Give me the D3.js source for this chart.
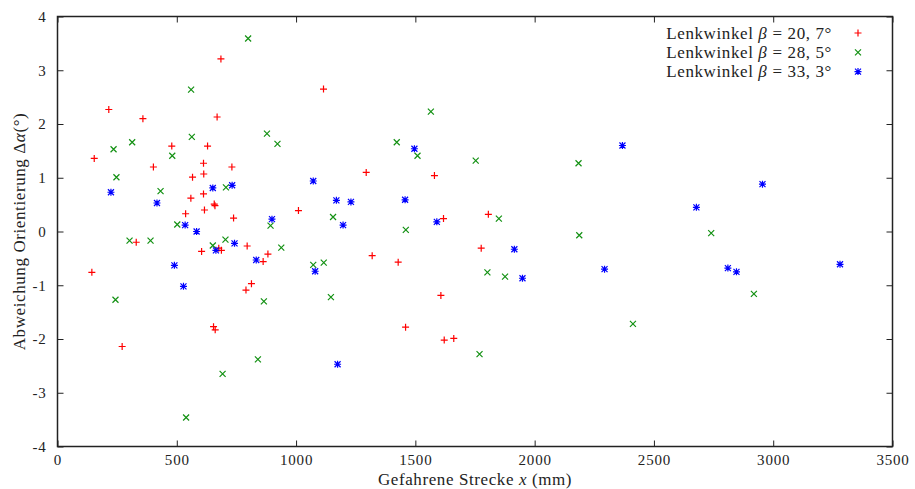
<!DOCTYPE html>
<html>
<head>
<meta charset="utf-8">
<script src="https://cdn.jsdelivr.net/npm/d3@7"></script>
<style>
  body { margin: 0; background: #fff; }
  svg { display: block; font-family: "Liberation Serif", "DejaVu Serif", serif; }
  .tick text { font-size: 15px; fill: #222; font-family: "Liberation Serif", serif; }
</style>
</head>
<body>
<svg id="chart" width="915" height="489"></svg>
<script>
// Lenkwinkel 20,7 deg  -> [x (mm), delta alpha (deg)]
var red = [
  [144, -0.76], [154, 1.36], [215, 2.27], [271, -2.14], [330, -0.2], [358, 2.1],
  [402, 1.2], [479, 1.59], [537, 0.33], [566, 1.01], [559, 0.62], [612, 1.27],
  [613, 1.07], [612, 0.7], [616, 0.4], [629, 1.59], [657, 0.51], [660, 0.48],
  [669, 2.13], [685, 3.21], [731, 1.2], [738, 0.25], [604, -0.37], [676, -0.31],
  [687, -0.35], [795, -0.27], [790, -1.09], [813, -0.97], [862, -0.56], [882, -0.42],
  [654, -1.77], [661, -1.83], [1010, 0.39], [1115, 2.65], [1294, 1.1], [1319, -0.45],
  [1428, -0.57], [1459, -1.78], [1580, 1.04], [1618, 0.24], [1607, -1.19], [1621, -2.02],
  [1661, -1.99], [1776, -0.31], [1806, 0.32]
];
// Lenkwinkel 28,5 deg
var green = [
  [235, 1.53], [247, 1.01], [243, -1.27], [313, 1.66], [302, -0.17], [390, -0.17],
  [432, 0.75], [481, 1.41], [502, 0.13], [560, 2.64], [563, 1.76], [539, -3.46],
  [651, -0.26], [704, -0.15], [706, 0.82], [692, -2.65], [799, 3.59], [840, -2.38],
  [865, -1.3], [878, 1.82], [893, 0.11], [922, 1.63], [938, -0.3], [1155, 0.27],
  [1072, -0.62], [1116, -0.58], [1146, -1.22], [1460, 0.03], [1422, 1.66], [1565, 2.23],
  [1509, 1.41], [1753, 1.32], [1850, 0.24], [1802, -0.76], [1876, -0.84], [1769, -2.28],
  [2184, 1.27], [2187, -0.07], [2412, -1.72], [2740, -0.03], [2919, -1.16]
];
// Lenkwinkel 33,3 deg
var blue = [
  [224, 0.73], [417, 0.53], [490, -0.63], [528, -1.02], [535, 0.12], [583, 0.0],
  [651, 0.81], [732, 0.86], [664, -0.35], [742, -0.22], [833, -0.53], [899, 0.23],
  [1072, 0.94], [1169, 0.58], [1230, 0.55], [1197, 0.12], [1080, -0.74], [1174, -2.47],
  [1457, 0.59], [1496, 1.54], [1590, 0.18], [1915, -0.33], [1949, -0.87], [2293, -0.7],
  [2368, 1.6], [2678, 0.45], [2955, 0.88], [2810, -0.68], [2846, -0.75], [3280, -0.61]
];
var labels = ["20, 7°", "28, 5°", "33, 3°"];
var xTicks = [0, 500, 1000, 1500, 2000, 2500, 3000, 3500];
var yTicks = [-4, -3, -2, -1, 0, 1, 2, 3, 4];

(function () {
  var svg = d3.select("#chart");
  var mLeft = 57.5, mRight = 892.5, mTop = 16.5, mBottom = 446.5;

  var x = d3.scaleLinear().domain([0, 3500]).range([mLeft, mRight]);
  var y = d3.scaleLinear().domain([-4, 4]).range([mBottom, mTop]);
  // plain hyphen for negatives, like the original plot
  var fmt = function (d) { return String(d); };

  // axes, ticks pointing inwards (gnuplot style)
  svg.append("g").attr("transform", "translate(0," + mBottom + ")")
    .call(d3.axisBottom(x).tickValues(xTicks).tickFormat(fmt).tickSizeInner(-6).tickSizeOuter(0).tickPadding(8));
  svg.append("g").attr("transform", "translate(0," + mTop + ")")
    .call(d3.axisTop(x).tickValues(xTicks).tickSizeInner(-6).tickSizeOuter(0).tickFormat(""));
  svg.append("g").attr("transform", "translate(" + mLeft + ",0)")
    .call(d3.axisLeft(y).tickValues(yTicks).tickFormat(fmt).tickSizeInner(-6).tickSizeOuter(0).tickPadding(11));
  svg.append("g").attr("transform", "translate(" + mRight + ",0)")
    .call(d3.axisRight(y).tickValues(yTicks).tickSizeInner(-6).tickSizeOuter(0).tickFormat(""));

  svg.selectAll(".domain").remove();
  svg.selectAll("g").attr("font-family", null).attr("font-size", null);
  svg.selectAll(".tick line").attr("stroke", "#222");
  svg.selectAll(".tick text").attr("letter-spacing", 0.8);

  svg.append("rect")
    .attr("x", mLeft).attr("y", mTop)
    .attr("width", mRight - mLeft).attr("height", mBottom - mTop)
    .attr("fill", "none").attr("stroke", "#222").attr("stroke-width", 1.5);

  // axis titles
  svg.append("text")
    .attr("x", 475).attr("y", 485)
    .attr("text-anchor", "middle").attr("font-size", 17).attr("fill", "#222")
    .attr("letter-spacing", 0.6)
    .html('Gefahrene Strecke <tspan font-style="italic">x</tspan> (mm)');

  svg.append("text")
    .attr("transform", "translate(25," + y(0) + ") rotate(-90)")
    .attr("text-anchor", "middle").attr("font-size", 17).attr("fill", "#222")
    .attr("letter-spacing", 0.6)
    .html('Abweichung Orientierung Δ<tspan font-style="italic">α</tspan>(°)');

  // marker shapes
  var s = 3.5;
  var shapes = {
    plus: "M" + (-s) + ",0H" + s + "M0," + (-s) + "V" + s,
    cross: "M-3,-3L3,3M-3,3L3,-3",
    star: "M" + (-s) + ",0H" + s + "M0," + (-s) + "V" + s + "M-3,-3L3,3M-3,3L3,-3"
  };
  var series = [
    { data: red, color: "#ff0000", shape: shapes.plus },
    { data: green, color: "#139113", shape: shapes.cross },
    { data: blue, color: "#0000ff", shape: shapes.star }
  ];

  series.forEach(function (ser) {
    svg.append("g").selectAll("path")
      .data(ser.data).enter().append("path")
      .attr("d", ser.shape)
      .attr("transform", function (d) { return "translate(" + x(d[0]) + "," + y(d[1]) + ")"; })
      .attr("fill", "none")
      .attr("stroke", ser.color)
      .attr("stroke-width", 1.2);
  });

  // legend
  var legend = svg.append("g");
  series.forEach(function (ser, i) {
    var ly = 33 + i * 19.3;
    legend.append("text")
      .attr("x", 832).attr("y", ly + 5.5)
      .attr("text-anchor", "end").attr("font-size", 17).attr("fill", "#222")
      .attr("letter-spacing", 0.6)
      .html('Lenkwinkel <tspan font-style="italic">β</tspan><tspan dx="5">=</tspan><tspan dx="5">' + labels[i] + '</tspan>');
    legend.append("path")
      .attr("d", ser.shape)
      .attr("transform", "translate(858," + ly + ")")
      .attr("fill", "none").attr("stroke", ser.color).attr("stroke-width", 1.2);
  });
})();
</script>
</body>
</html>
